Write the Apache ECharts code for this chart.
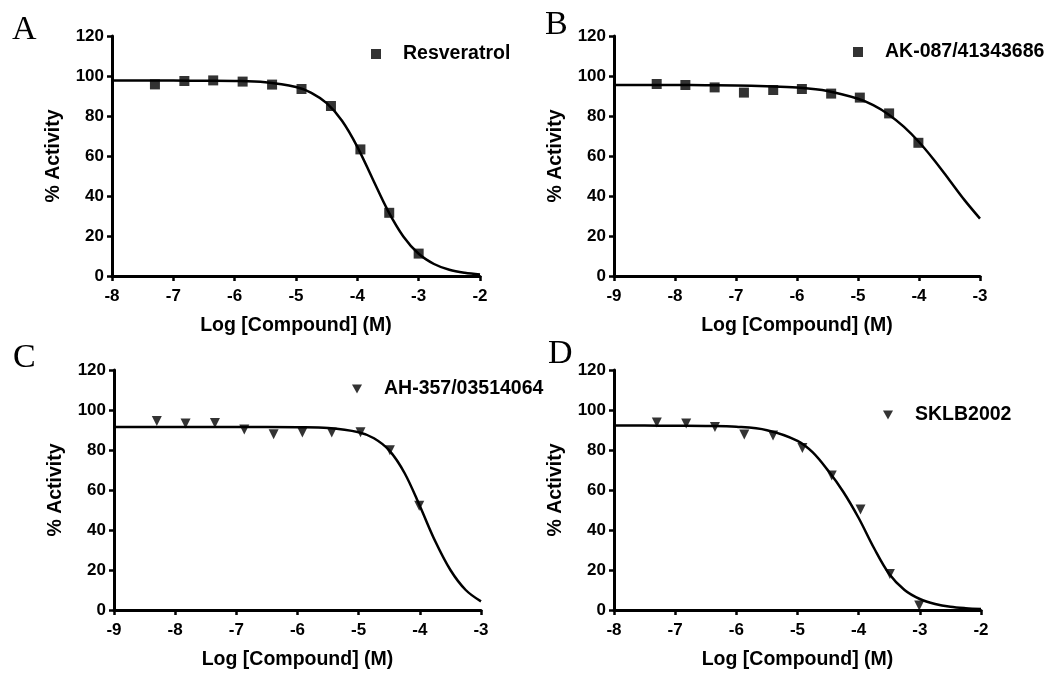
<!DOCTYPE html>
<html>
<head>
<meta charset="utf-8">
<script src="https://cdn.jsdelivr.net/npm/echarts@6/dist/echarts.min.js"></script>
<style>html,body{margin:0;padding:0;background:#fff;}#c{width:1051px;height:675px;}</style>
</head>
<body>
<div id="c"></div>
<script>
// Panel A — Resveratrol
const nameA = 'Resveratrol';
const xA = [-7.30, -6.82, -6.35, -5.87, -5.39, -4.91, -4.43, -3.95, -3.48, -3.00];
const yA = [95.8, 97.5, 97.8, 97.2, 95.7, 93.5, 85.0, 63.3, 31.6, 11.2];
const fitXA = [-8, -7.5, -7, -6.5, -6, -5.5, -5, -4.75, -4.5, -4.25, -4, -3.75, -3.5, -3.25, -3, -2.75, -2.5, -2.25, -2];
const fitYA = [97.7, 97.7, 97.7, 97.6, 97.5, 96.9, 94.5, 91.6, 86.4, 77.6, 64.6, 48.5, 32.6, 19.8, 11.1, 6.0, 3.1, 1.6, 0.8];

// Panel B — AK-087/41343686
const nameB = 'AK-087/41343686';
const xB = [-8.30, -7.83, -7.35, -6.87, -6.39, -5.92, -5.44, -4.97, -4.49, -4.01];
const yB = [96.0, 95.5, 94.3, 91.7, 93.0, 93.5, 91.2, 89.2, 81.3, 66.6];
const fitXB = [-9, -8.5, -8, -7.5, -7, -6.5, -6, -5.5, -5, -4.75, -4.5, -4.25, -4, -3.75, -3.5, -3.25, -3];
const fitYB = [95.5, 95.5, 95.5, 95.4, 95.3, 94.9, 94.2, 92.5, 88.6, 85.4, 80.8, 74.7, 67.0, 57.9, 47.9, 37.8, 28.7];

// Panel C — AH-357/03514064
const nameC = 'AH-357/03514064';
const xC = [-8.30, -7.83, -7.35, -6.87, -6.39, -5.92, -5.44, -4.97, -4.49, -4.01];
const yC = [94.5, 93.3, 93.5, 90.3, 87.9, 88.7, 88.7, 88.9, 79.9, 52.1];
const fitXC = [-9, -8, -7, -6.5, -6, -5.5, -5, -4.75, -4.5, -4.25, -4, -3.75, -3.5, -3.25, -3];
const fitYC = [91.5, 91.5, 91.5, 91.5, 91.4, 91.0, 88.9, 85.9, 79.8, 68.5, 52.0, 34.5, 20.0, 10.0, 4.3];

// Panel D — SKLB2002
const nameD = 'SKLB2002';
const xD = [-7.30, -6.82, -6.35, -5.87, -5.40, -4.92, -4.44, -3.97, -3.49, -3.01];
const yD = [93.8, 93.3, 91.5, 87.7, 87.3, 81.0, 67.2, 50.2, 18.0, 2.2];
const fitXD = [-8, -7.5, -7, -6.5, -6, -5.5, -5, -4.75, -4.5, -4.25, -4, -3.75, -3.5, -3.25, -3, -2.75, -2.5, -2.25, -2];
const fitYD = [92.2, 92.2, 92.1, 92.0, 91.6, 89.9, 84.6, 78.8, 69.7, 59.0, 46.0, 31.0, 18.0, 10.0, 5.5, 3.0, 1.6, 0.9, 0.5];

// Axes
const xRangeA = [-8, -2], xRangeB = [-9, -3], xRangeC = [-9, -3], xRangeD = [-8, -2];
const yRange = [0, 120];
const panelLetters = ['A', 'B', 'C', 'D'];
const xTitle = 'Log [Compound] (M)';
const yTitle = '% Activity';

const FONT = '"Liberation Sans", Arial, sans-serif';
const pair = (xs, ys) => xs.map((x, i) => [x, ys[i]]);
const downTri = 'path://M0,0L10,0L5,9Z';

const grids = [
  {left: 112, top: 36, width: 368, height: 240},
  {left: 614, top: 36, width: 366, height: 240},
  {left: 114, top: 370, width: 367, height: 240},
  {left: 614, top: 370, width: 367, height: 240}
];
const xr = [xRangeA, xRangeB, xRangeC, xRangeD];

const xAxes = xr.map((r, i) => ({
  type: 'value', gridIndex: i, min: r[0], max: r[1], interval: 1,
  name: xTitle, nameLocation: 'middle', nameGap: 40,
  nameTextStyle: {fontFamily: FONT, fontWeight: 'bold', fontSize: 19.5, color: '#000'},
  axisLine: {onZero: false, lineStyle: {color: '#000', width: 3}},
  axisTick: {length: 5, lineStyle: {color: '#000', width: 2.5}},
  axisLabel: {fontFamily: FONT, fontWeight: 'bold', fontSize: 17, color: '#000', margin: 12},
  splitLine: {show: false}
}));
const yAxes = grids.map((g, i) => ({
  type: 'value', gridIndex: i, min: yRange[0], max: yRange[1], interval: 20,
  name: yTitle, nameLocation: 'middle', nameGap: 48,
  nameTextStyle: {fontFamily: FONT, fontWeight: 'bold', fontSize: 19.5, color: '#000'},
  axisLine: {show: true, lineStyle: {color: '#000', width: 3}},
  axisTick: {show: true, length: 5, lineStyle: {color: '#000', width: 2.5}},
  axisLabel: {fontFamily: FONT, fontWeight: 'bold', fontSize: 17, color: '#000', margin: 8},
  splitLine: {show: false}
}));

const panels = [
  {name: nameA, x: xA, y: yA, fx: fitXA, fy: fitYA, sym: 'rect', icon: 'rect', size: 10},
  {name: nameB, x: xB, y: yB, fx: fitXB, fy: fitYB, sym: 'rect', icon: 'rect', size: 10},
  {name: nameC, x: xC, y: yC, fx: fitXC, fy: fitYC, sym: 'triangle', icon: downTri, size: 10},
  {name: nameD, x: xD, y: yD, fx: fitXD, fy: fitYD, sym: 'triangle', icon: downTri, size: 10}
];

const series = [];
panels.forEach((p, i) => {
  series.push({
    type: 'line', name: p.name + ' fit', xAxisIndex: i, yAxisIndex: i,
    data: pair(p.fx, p.fy), smooth: 0.35, showSymbol: false, symbol: 'none',
    lineStyle: {color: '#000', width: 2.5}, z: 2, silent: true
  });
  series.push({
    type: 'scatter', name: p.name, xAxisIndex: i, yAxisIndex: i,
    data: pair(p.x, p.y), symbol: p.sym, symbolSize: p.size,
    symbolRotate: p.sym === 'triangle' ? 180 : 0,
    itemStyle: {color: '#000'}, z: 3
  });
});

const legPos = [
  {left: 371, top: 44}, {left: 853, top: 42}, {left: 352, top: 379}, {left: 883, top: 405}
];
const legends = panels.map((p, i) => ({
  data: [{name: p.name, icon: p.icon}],
  left: legPos[i].left, top: legPos[i].top, padding: 0,
  itemWidth: 10, itemHeight: p.sym === 'rect' ? 10 : 9,
  textStyle: {fontFamily: FONT, fontWeight: 'bold', fontSize: 19.5, color: '#000', lineHeight: 20, padding: [0, 0, 0, 17]},
  selectedMode: false
}));

const letterPos = [[12, 13], [545, 8], [13, 341], [548, 337]];
const graphics = panelLetters.map((t, i) => ({
  type: 'text', left: letterPos[i][0], top: letterPos[i][1],
  style: {text: t, font: '34px "Liberation Serif", "Times New Roman", serif', fill: '#000'}
}));

const chart = echarts.init(document.getElementById('c'), null, {renderer: 'canvas'});
chart.setOption({
  animation: false,
  backgroundColor: '#fff',
  grid: grids,
  xAxis: xAxes,
  yAxis: yAxes,
  legend: legends,
  series: series,
  graphic: graphics
});
</script>
</body>
</html>
